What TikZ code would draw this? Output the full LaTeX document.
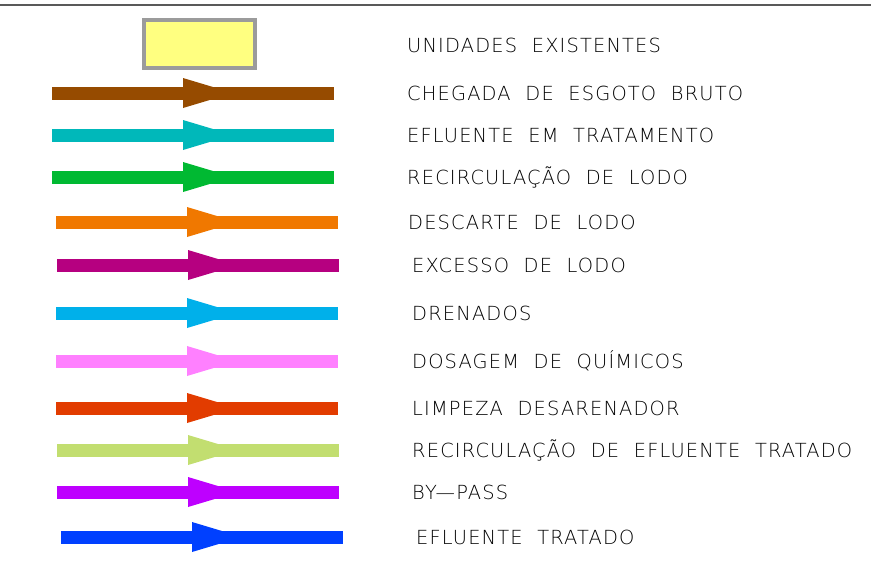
\documentclass[tikz,border=0pt]{standalone}
\usepackage{fontspec}
\setmainfont{DejaVu Sans ExtraLight}[LetterSpace=6]
\usetikzlibrary{arrows.meta, decorations.markings, positioning}

\definecolor{boxfill}{RGB}{255,255,128}
\definecolor{boxedge}{RGB}{155,155,155}
\definecolor{cbrown}{RGB}{150,75,0}
\definecolor{cteal}{RGB}{0,184,186}
\definecolor{cgreen}{RGB}{0,185,50}
\definecolor{corange}{RGB}{240,120,0}
\definecolor{cmagenta}{RGB}{182,0,128}
\definecolor{csky}{RGB}{0,176,234}
\definecolor{cpink}{RGB}{255,128,255}
\definecolor{cred}{RGB}{226,60,0}
\definecolor{clime}{RGB}{194,222,112}
\definecolor{cpurple}{RGB}{190,0,255}
\definecolor{cblue}{RGB}{0,64,255}

\begin{document}
\begin{tikzpicture}[x=1pt, y=-1pt,
		legline/.style={line width=13pt, postaction={decorate},
			decoration={markings, mark=at position 181pt with {\arrow{Triangle[length=50pt, width=30pt, line width=0pt]}}}},
		lbl/.style={anchor=base west, inner sep=0pt, font=\fontsize{19.4}{20}\selectfont}]
			\useasboundingbox (0,0) rectangle (871,563);
			\coordinate (tl) at (0,5);
			\coordinate (tr) at (871,5);
			\draw[line width=2pt, black!65] (tl) -- (tr);
			
			\node[draw=boxedge, fill=boxfill, line width=4pt, minimum width=111pt, minimum height=48pt, inner sep=0pt] (exist) at (199.5,44) {};
			\node[lbl] (existlbl) at (407,52) {UNIDADES~~EXISTENTES};
			
			\foreach \c/\y/\xa/\xt/\txt [count=\i] in {
				cbrown/93/52/407/CHEGADA~~DE~~ESGOTO~~BRUTO,
				cteal/135/52/407/EFLUENTE~~EM~~TRATAMENTO,
				cgreen/177/52/407/RECIRCULAÇÃO~~DE~~LODO,
				corange/222/56/408/DESCARTE~~DE~~LODO,
				cmagenta/265/57/412/EXCESSO~~DE~~LODO,
				csky/313/56/412/DRENADOS,
				cpink/361/56/412/DOSAGEM~~DE~~QUÍMICOS,
				cred/408/56/412/LIMPEZA~~DESARENADOR,
				clime/450/57/412/RECIRCULAÇÃO~~DE~~EFLUENTE~~TRATADO,
				cpurple/492/57/412/BY---PASS,
				cblue/537/61/416/EFLUENTE~~TRATADO}
			{
				\coordinate (s\i) at (\xa,\y);
				\coordinate (e\i) at (\xa+282,\y);
				\draw[legline, \c] (s\i) -- (e\i);
				\node[lbl] (t\i) at (\xt,\y+7) {\txt};
			}
			
		\end{tikzpicture}
\end{document}
